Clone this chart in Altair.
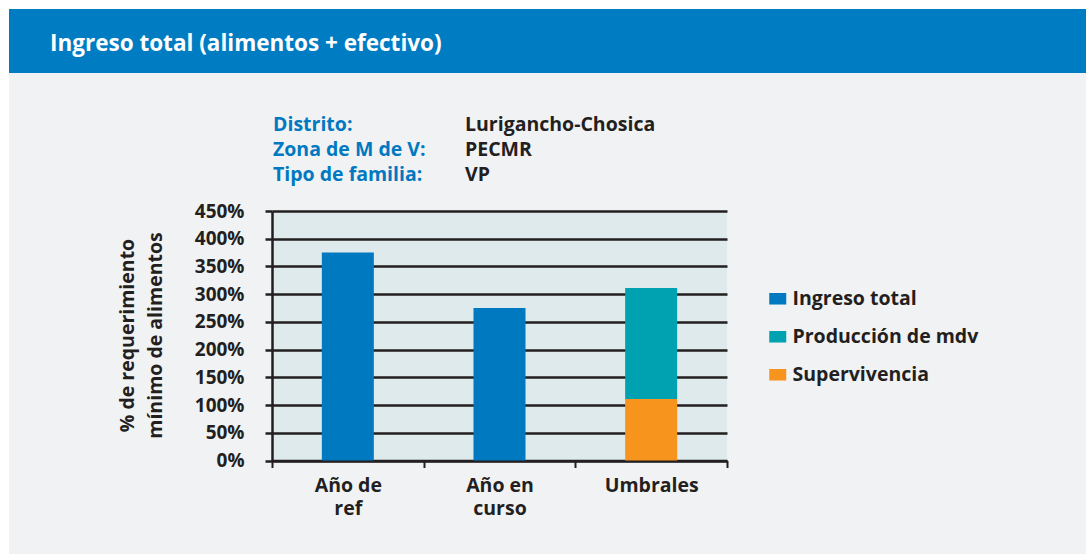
import altair as alt
import pandas as pd

# Categories on the x axis ("\n" marks a line break in the axis label)
categorias = ["Año de\nref", "Año en\ncurso", "Umbrales"]

# Series and their values (% of the minimum food requirement)
series = ["Ingreso total", "Producción de mdv", "Supervivencia"]
colores = ["#0079c1", "#00a2b1", "#f7941e"]

ingreso_total = [375, 275, None]
produccion_mdv = [None, None, 200]
supervivencia = [None, None, 111]

# Stacking order inside a bar (bottom first)
orden_pila = {"Supervivencia": 0, "Producción de mdv": 1, "Ingreso total": 2}

y_ticks = list(range(0, 451, 50))

info_etiquetas = ["Distrito:", "Zona de M de V:", "Tipo de familia:"]
info_valores = ["Lurigancho-Chosica", "PECMR", "VP"]
titulo = "Ingreso total (alimentos + efectivo)"
y_titulo = ["% de requerimiento", "mínimo de alimentos"]

rows = []
for serie, vals in zip(series, [ingreso_total, produccion_mdv, supervivencia]):
    for cat, v in zip(categorias, vals):
        if v is not None:
            rows.append({"categoria": cat, "serie": serie, "valor": v,
                         "orden": orden_pila[serie]})
df = pd.DataFrame(rows)

FONT = "Open Sans"
DARK = "#231f20"
W, H = 455, 249.5
LEFT, TOP = 272, 211
TOTAL_W, TOTAL_H = 1086, 554

bars = alt.Chart(df).mark_bar(width=alt.RelativeBandSize(0.343)).encode(
    x=alt.X("categoria:N", sort=categorias,
            scale=alt.Scale(paddingInner=0, paddingOuter=0),
            axis=alt.Axis(title=None, labelAngle=0, tickBand="extent",
                          labelExpr="split(datum.label, '\\n')",
                          labelLineHeight=23, labelPadding=9,
                          labelFont=FONT, labelFontSize=19.5,
                          labelFontWeight="bold", labelColor=DARK,
                          domainColor=DARK, domainWidth=2.5,
                          tickColor=DARK, tickWidth=2, tickSize=7)),
    y=alt.Y("valor:Q", stack="zero",
            scale=alt.Scale(domain=[0, 450], nice=False),
            axis=alt.Axis(values=y_ticks, title=y_titulo,
                          labelExpr="datum.value + '%'",
                          labelFont=FONT, labelFontSize=19,
                          labelFontWeight="bold", labelColor=DARK,
                          labelPadding=21,
                          titleFont=FONT, titleFontSize=19.5,
                          titleFontWeight="bold", titleColor=DARK,
                          titleAngle=-90, titleAlign="center",
                          titleBaseline="alphabetic", titleLineHeight=28,
                          titleX=-138.5, titleY=124,
                          domainColor=DARK, domainWidth=2.5,
                          tickColor=DARK, tickWidth=2.5, tickSize=7,
                          grid=True, gridColor=DARK, gridWidth=2.5)),
    color=alt.Color("serie:N", scale=alt.Scale(domain=series, range=colores),
                    legend=alt.Legend(title=None, orient="none",
                                      legendX=496, legendY=78,
                                      symbolType="M-1,-0.68H1V0.68H-1Z",
                                      symbolSize=289, symbolStrokeWidth=0,
                                      labelFont=FONT, labelFontSize=19.5,
                                      labelFontWeight="bold", labelColor=DARK,
                                      labelOffset=5, labelLimit=400,
                                      rowPadding=17, padding=0)),
    order=alt.Order("orden:Q"),
)

uno = pd.DataFrame({"k": [0]})

# White margin strips, header banner
franja_sup = alt.Chart(uno).mark_rect(color="white").encode(
    x=alt.value(-LEFT), x2=alt.value(TOTAL_W - LEFT),
    y=alt.value(-TOP), y2=alt.value(9 - TOP))
franja_izq = alt.Chart(uno).mark_rect(color="white").encode(
    x=alt.value(-LEFT), x2=alt.value(9 - LEFT),
    y=alt.value(-TOP), y2=alt.value(TOTAL_H - TOP))
banner = alt.Chart(uno).mark_rect(color="#007cc2").encode(
    x=alt.value(9 - LEFT), x2=alt.value(TOTAL_W - LEFT),
    y=alt.value(9 - TOP), y2=alt.value(73 - TOP))
banner_txt = alt.Chart(uno).mark_text(
    text=titulo, font=FONT, fontSize=22.5, fontWeight="bold",
    color="white", align="left", baseline="alphabetic").encode(
    x=alt.value(50 - LEFT), y=alt.value(51 - TOP))

# Info block: first line centred at y=125, lines 25 px apart
info_lbl = alt.Chart(uno).mark_text(
    text=info_etiquetas, font=FONT, fontSize=19.5, fontWeight="bold",
    color="#0079c1", align="left", baseline="middle", lineHeight=25).encode(
    x=alt.value(273 - LEFT), y=alt.value(125 - TOP))
info_val = alt.Chart(uno).mark_text(
    text=info_valores, font=FONT, fontSize=19.5, fontWeight="bold",
    color=DARK, align="left", baseline="middle", lineHeight=25).encode(
    x=alt.value(465 - LEFT), y=alt.value(125 - TOP))

chart = alt.layer(
    franja_sup, franja_izq, banner, banner_txt, info_lbl, info_val, bars
).properties(
    width=W, height=H,
    padding={"left": LEFT, "top": TOP,
             "right": TOTAL_W - LEFT - W, "bottom": TOTAL_H - TOP - H},
    autosize=alt.AutoSizeParams(type="none"),
    background="#f1f2f4",
).configure_view(fill="#deeaeb", stroke=None)

chart.save("out.html", embed_options={"renderer": "svg", "actions": False})
